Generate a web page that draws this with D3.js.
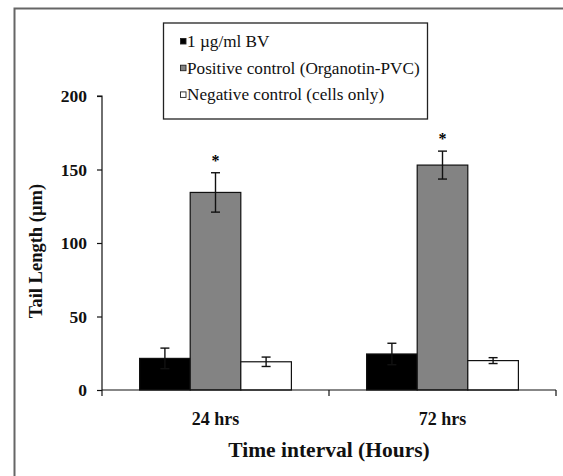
<!DOCTYPE html>
<html><head><meta charset="utf-8">
<script src="https://cdn.jsdelivr.net/npm/d3@7/dist/d3.min.js"></script>
<style>body{margin:0;background:#fff}svg{display:block}</style>
</head><body>
<script>
const categories = ["24 hrs", "72 hrs"];
const series = ["1 µg/ml BV", "Positive control (Organotin-PVC)", "Negative control (cells only)"];
const bvValues = [21.5, 24.5];
const bvErrors = [7, 7.3];
const positiveValues = [134.4, 153.0];
const positiveErrors = [13.4, 9.5];
const negativeValues = [19.2, 20.0];
const negativeErrors = [3.2, 2.0];
const yTicks = [0, 50, 100, 150, 200];
const significant = [false, true, false];
const fills = ["#000000", "#838383", "#ffffff"];

const W = 563, H = 476;
const svg = d3.select("body").append("svg").attr("width", W).attr("height", H);
const font = "'Liberation Serif','Times New Roman',serif";

// outer frame
svg.append("path").attr("d", `M14.5,${H+5} L14.5,8.5 L${W+5},8.5`)
  .attr("fill","none").attr("stroke","#666").attr("stroke-width",2);

const x0 = d3.scaleBand().domain(categories).range([102, 556]).padding(0);
const x1 = d3.scaleBand().domain(series).range([0, x0.bandwidth()]).paddingInner(0).paddingOuter(0.743);
const y = d3.scaleLinear().domain([0, 200]).range([390, 96]);

const valuesBySeries = [bvValues, positiveValues, negativeValues];
const errorsBySeries = [bvErrors, positiveErrors, negativeErrors];
const data = [];
categories.forEach((c, ci) => series.forEach((s, si) => data.push({c, s, si, v: valuesBySeries[si][ci], e: errorsBySeries[si][ci]})));

const g = svg.append("g");
// bars
g.selectAll("rect.bar").data(data).enter().append("rect")
  .attr("x", d => x0(d.c) + x1(d.s))
  .attr("y", d => y(d.v))
  .attr("width", x1.bandwidth())
  .attr("height", d => y(0) - y(d.v))
  .attr("fill", d => fills[d.si])
  .attr("stroke", "#111").attr("stroke-width", 1.2);

// error bars
const eb = g.selectAll("g.err").data(data).enter().append("g")
  .attr("transform", d => `translate(${x0(d.c) + x1(d.s) + x1.bandwidth()/2},0)`);
eb.append("line").attr("y1", d => y(d.v + d.e)).attr("y2", d => y(d.v - d.e))
  .attr("stroke", "#111").attr("stroke-width", 1.4);
eb.append("line").attr("x1", -4.5).attr("x2", 4.5).attr("y1", d => y(d.v + d.e)).attr("y2", d => y(d.v + d.e))
  .attr("stroke", "#111").attr("stroke-width", 1.4);
eb.append("line").attr("x1", -4.5).attr("x2", 4.5).attr("y1", d => y(d.v - d.e)).attr("y2", d => y(d.v - d.e))
  .attr("stroke", "#111").attr("stroke-width", 1.4);
// significance stars
eb.filter(d => significant[d.si]).append("text")
  .attr("y", d => y(d.v + d.e) - 7).attr("text-anchor", "middle")
  .attr("font-family", font).attr("font-weight", "bold").attr("font-size", 16).text("*");

// y axis
const yAxis = svg.append("g").attr("transform", "translate(102,0)")
  .call(d3.axisLeft(y).tickValues(yTicks).tickSize(5).tickPadding(10));
yAxis.select(".domain").attr("stroke", "#111").attr("stroke-width", 1.2).attr("d", `M-5,${y(200)}H0V${y(0)}`);
yAxis.selectAll(".tick line").attr("stroke", "#111").attr("stroke-width", 1.2);
yAxis.selectAll(".tick text").attr("font-family", font).attr("font-weight", "bold").attr("font-size", 17.5).attr("fill", "#111");

// x axis
const xa = svg.append("g");
xa.append("line").attr("x1", x0.range()[0]).attr("x2", x0.range()[1]).attr("y1", y(0)).attr("y2", y(0))
  .attr("stroke", "#111").attr("stroke-width", 1.2);
const tickXs = categories.map(c => x0(c)).concat([x0.range()[1]]);
xa.selectAll("line.tk").data(tickXs).enter().append("line")
  .attr("x1", d => d).attr("x2", d => d).attr("y1", y(0)).attr("y2", y(0) + 6)
  .attr("stroke", "#111").attr("stroke-width", 1.2);
xa.selectAll("text").data(categories).enter().append("text")
  .attr("x", d => x0(d) + x0.bandwidth()/2).attr("y", 425).attr("text-anchor", "middle")
  .attr("font-family", font).attr("font-weight", "bold").attr("font-size", 18).attr("fill", "#111").text(d => d);

// axis titles
svg.append("text").attr("x", 329).attr("y", 457).attr("text-anchor", "middle")
  .attr("font-family", font).attr("font-weight", "bold").attr("font-size", 21.5).attr("fill", "#111")
  .text("Time interval (Hours)");
svg.append("text").attr("transform", "translate(42,251) rotate(-90)").attr("text-anchor", "middle")
  .attr("font-family", font).attr("font-weight", "bold").attr("font-size", 18.5).attr("fill", "#111")
  .text("Tail Length (µm)");

// legend
const lg = svg.append("g");
lg.append("rect").attr("x", 163.5).attr("y", 23).attr("width", 264).attr("height", 96)
  .attr("fill", "#fff").attr("stroke", "#222").attr("stroke-width", 1.3);
const items = lg.selectAll("g.li").data(series).enter().append("g")
  .attr("transform", (d, i) => `translate(0,${41.5 + i * 26.7})`);
items.append("rect").attr("x", 180.5).attr("y", -3).attr("width", 5.5).attr("height", 5.5)
  .attr("fill", (d, i) => fills[i]).attr("stroke", "#222").attr("stroke-width", 0.9);
items.append("text").attr("x", 187).attr("y", 5.5).attr("font-family", font).attr("font-size", 17.2).attr("fill", "#111")
  .text(d => d);
</script>
</body></html>
